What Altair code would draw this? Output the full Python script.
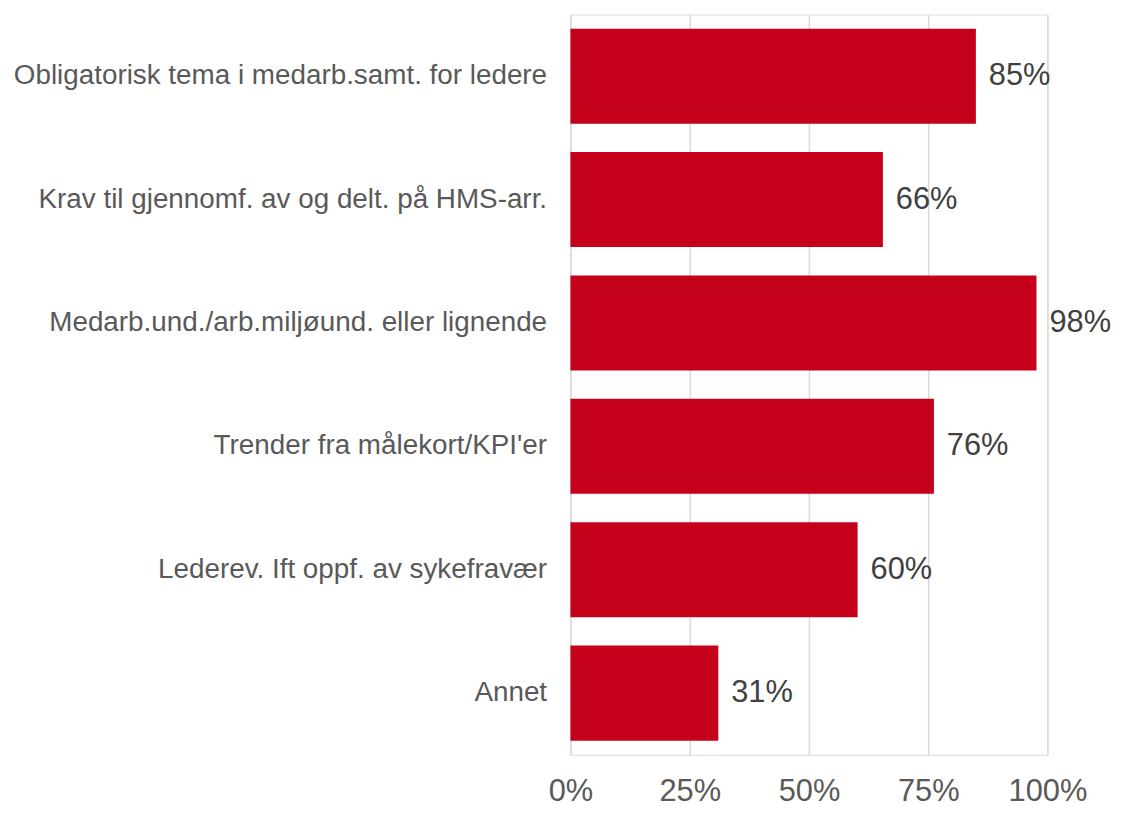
import altair as alt
import pandas as pd

categories = [
    "Obligatorisk tema i medarb.samt. for ledere",
    "Krav til gjennomf. av og delt. på HMS-arr.",
    "Medarb.und./arb.miljøund. eller lignende",
    "Trender fra målekort/KPI'er",
    "Lederev. Ift oppf. av sykefravær",
    "Annet",
]
values = [0.85, 0.655, 0.977, 0.762, 0.602, 0.31]
labels = ["85%", "66%", "98%", "76%", "60%", "31%"]

df = pd.DataFrame({"cat": categories, "val": values, "lab": labels})

y_enc = alt.Y("cat:N", sort=categories, title=None,
              scale=alt.Scale(paddingInner=0.23, paddingOuter=0.115),
              axis=alt.Axis(domain=False, ticks=False, labelFontSize=28,
                            labelColor="#595959", labelFont="Liberation Sans",
                            labelPadding=24, labelLimit=700))

bars = alt.Chart(df).mark_bar(color="#C4001A").encode(
    x=alt.X("val:Q", title=None,
            scale=alt.Scale(domain=[0, 1], nice=False),
            axis=alt.Axis(format=".0%", values=[0, 0.25, 0.5, 0.75, 1.0],
                          domain=False, ticks=False, grid=True,
                          gridColor="#D9D9D9", gridWidth=1.5,
                          labelFlush=False, labelAlign="center",
                          labelFontSize=31, labelColor="#595959",
                          labelFont="Liberation Sans", labelPadding=22)),
    y=y_enc,
)

text = alt.Chart(df).mark_text(align="left", baseline="middle", dx=13,
                               fontSize=31, color="#404040",
                               font="Liberation Sans").encode(
    x="val:Q",
    y=alt.Y("cat:N", sort=categories),
    text="lab:N",
)

chart = (bars + text).properties(
    width=480, height=745,
    padding={"left": 5, "top": 4, "right": 5, "bottom": 2},
).configure_view(stroke=None).configure(background="white")

chart.save("out.html", embed_options={"renderer": "svg", "actions": False})
